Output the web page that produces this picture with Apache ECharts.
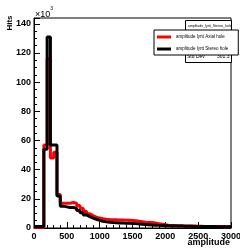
<!DOCTYPE html>
<html>
<head>
<meta charset="utf-8">
<script src="https://cdn.jsdelivr.net/npm/echarts@6/dist/echarts.min.js"></script>
<style>
    html, body { margin: 0; padding: 0; background: #fff; }
    #main { width: 240px; height: 248px; }
</style>
</head>
<body>
<div id="main"></div>
<script>
// bins: 60 bins of width 50 from 0 to 3000, values in units of 10^3 hits
var binWidth = 50
var nBins = 60
// amplitude lyrtt Axial hole (red)
var axialHits = [
    0.5, 0.5, 0.5, 57, 116, 48, 52, 23, 17, 17,
    17, 17.5, 17, 15.5, 13.5, 11.5, 9.8, 8.5, 7.5, 6.8,
    6.3, 6, 5.8, 5.7, 5.6, 5.5, 5.5, 5.4, 5.3, 5.1,
    4.9, 4.6, 4.3, 4, 3.8, 3.8, 3.4, 3, 2.6, 2.2,
    1.9, 1.8, 1.7, 1.6, 1.5, 1.4, 1.4, 1.3, 1.3, 1.2,
    1.2, 1.1, 1.1, 1, 1, 1, 1, 0.9, 0.9, 0.9
]
// amplitude lyrtt Stereo hole (black)
var stereoHits = [
    1, 1, 1, 54, 131, 57, 57, 22, 15, 14.5,
    14, 14, 13.5, 12, 10.5, 9, 7.8, 6.8, 6, 5.2,
    4.6, 4.2, 3.9, 3.7, 3.6, 3.5, 3.4, 3.3, 3.2, 3.1,
    3, 2.8, 2.6, 2.4, 2.2, 2, 1.9, 1.8, 1.7, 1.6,
    1.5, 1.4, 1.4, 1.3, 1.3, 1.2, 1.2, 1.2, 1.1, 1.1,
    1.1, 1, 1, 1, 1, 0.9, 0.9, 0.9, 0.9, 0.9
]
var seriesNames = ['amplitude lyrtt Axial hole', 'amplitude lyrtt Stereo hole']
var statsTitle = 'amplitude_lyrtt_Stereo_hole'
var statsStdDev = '301.3'

// step points: [low edge, value], last one closes the final bin
function toSteps(values) {
    let pts = values.map((v, i) => [i * binWidth, v])
    pts.push([nBins * binWidth, values[values.length - 1]])
    return pts
}

var font = 'Liberation Sans, Arial, Helvetica, sans-serif'
var myChart = echarts.init(document.getElementById('main'))
let option = {
    animation: false,
    grid: {
        left: 34, right: 9, top: 18, bottom: 20,
        containLabel: false,
        outerBoundsMode: 'none',
        show: true, borderColor: '#000', borderWidth: 1
    },
    xAxis: {
        type: 'value',
        min: 0, max: 3000, interval: 500,
        axisLine: { lineStyle: { color: '#000', width: 1 } },
        axisTick: { inside: true, length: 6, lineStyle: { color: '#000' } },
        minorTick: { show: true, splitNumber: 5, length: 3, lineStyle: { color: '#000' } },
        splitLine: { show: false },
        axisLabel: {
            fontFamily: font, fontWeight: 'bold', fontSize: 9, color: '#000', margin: 4,
            hideOverlap: false,
            formatter: v => String(v)
        }
    },
    yAxis: {
        type: 'value',
        min: 0, max: 144, interval: 20,
        axisLine: { lineStyle: { color: '#000', width: 1 } },
        axisTick: { inside: true, length: 6, lineStyle: { color: '#000' } },
        minorTick: { show: true, splitNumber: 4, length: 3, lineStyle: { color: '#000' } },
        splitLine: { show: false },
        axisLabel: {
            fontFamily: font, fontWeight: 'bold', fontSize: 9, color: '#000', margin: 3,
            formatter: v => (v % 20 === 0 ? String(v) : '')
        }
    },
    legend: {
        left: 154, top: 30,
        orient: 'vertical',
        z: 100,
        backgroundColor: '#fff',
        borderColor: '#000',
        borderWidth: 1,
        borderRadius: 0,
        padding: [4, 10, 3, 3],
        itemGap: 6,
        itemWidth: 14,
        itemHeight: 3,
        itemTextGap: 2,
        icon: 'rect',
        textStyle: { fontFamily: font, fontSize: 4.5, color: '#000', lineHeight: 6 },
        data: seriesNames
    },
    graphic: [
        // axis titles
        { type: 'text', z: 51, x: 10, y: 23, rotation: Math.PI / 2,
          style: { text: 'Hits', font: 'bold 8px ' + font, fill: '#000',
                   textAlign: 'center', textVerticalAlign: 'middle' } },
        { type: 'text', z: 51, x: 230, y: 243,
          style: { text: 'amplitude', font: 'bold 9px ' + font, fill: '#000',
                   textAlign: 'right', textVerticalAlign: 'middle' } },
        // stats box
        { type: 'rect', z: 50, shape: { x: 185.5, y: 20.5, width: 46, height: 42 },
          style: { fill: '#fff', stroke: '#000', lineWidth: 1 } },
        { type: 'text', z: 51, left: 188, top: 24,
          style: { text: statsTitle, font: '3.5px ' + font, fill: '#000' } },
        { type: 'text', z: 51, left: 187, top: 54,
          style: { text: 'Std Dev', font: '5px ' + font, fill: '#000' } },
        { type: 'text', z: 51, left: 217, top: 54,
          style: { text: statsStdDev, font: '5px ' + font, fill: '#000' } },
        { type: 'text', z: 51, left: 35, top: 6,
          style: {
              text: '{a|×10}{b|3}',
              rich: {
                  a: { fontFamily: font, fontSize: 9, fill: '#000', padding: [4, 0, 0, 0] },
                  b: { fontFamily: font, fontSize: 5, fill: '#000', verticalAlign: 'top' }
              }
          } }
    ],
    series: [
        {
            name: seriesNames[0],
            type: 'line',
            step: 'end',
            symbol: 'none',
            color: '#ff0000',
            lineStyle: { color: '#ff0000', width: 3 },
            data: toSteps(axialHits)
        },
        {
            name: seriesNames[1],
            type: 'line',
            step: 'end',
            symbol: 'none',
            color: '#000000',
            lineStyle: { color: '#000000', width: 3 },
            data: toSteps(stereoHits)
        }
    ]
}
myChart.setOption(option)
</script>
</body>
</html>
